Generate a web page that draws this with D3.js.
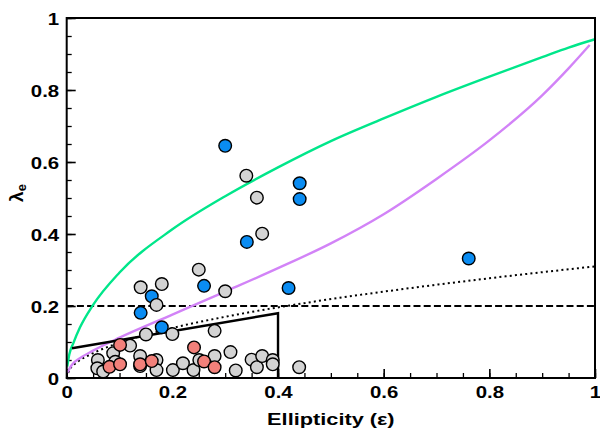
<!DOCTYPE html>
<html><head><meta charset="utf-8">
<script src="https://cdn.jsdelivr.net/npm/d3@7/dist/d3.min.js"></script>
<style>body{margin:0;background:#fff}</style>
</head><body>
<svg id="c" width="600" height="433"></svg>
<script>
// ---- data ----
const xTicks = [0, 0.2, 0.4, 0.6, 0.8, 1];
const yTicks = [0, 0.2, 0.4, 0.6, 0.8, 1];
const xTickLabels = ["0", "0.2", "0.4", "0.6", "0.8", "1"];
const yTickLabels = ["0", "0.2", "0.4", "0.6", "0.8", "1"];

const blueEps = [0.300, 0.441, 0.441, 0.341, 0.260, 0.420, 0.161, 0.140, 0.180, 0.761];
const blueLam = [0.645, 0.541, 0.497, 0.378, 0.256, 0.250, 0.227, 0.181, 0.141, 0.332];

const grayEps = [0.340, 0.360, 0.370, 0.250, 0.140, 0.180, 0.300, 0.170, 0.150, 0.200, 0.280, 0.120,
                 0.059, 0.058, 0.069, 0.088, 0.092, 0.139, 0.139, 0.170, 0.170, 0.201, 0.220, 0.240,
                 0.251, 0.280, 0.310, 0.320, 0.350, 0.360, 0.370, 0.390, 0.390, 0.440];
const grayLam = [0.562, 0.501, 0.401, 0.301, 0.252, 0.261, 0.241, 0.203, 0.121, 0.122, 0.131, 0.090,
                 0.050, 0.027, 0.018, 0.069, 0.045, 0.061, 0.033, 0.050, 0.022, 0.022, 0.041, 0.022,
                 0.050, 0.061, 0.072, 0.021, 0.051, 0.030, 0.061, 0.050, 0.038, 0.030];

const redEps = [0.101, 0.081, 0.101, 0.139, 0.161, 0.241, 0.260, 0.280];
const redLam = [0.092, 0.031, 0.038, 0.038, 0.047, 0.085, 0.046, 0.030];

const greenEps = [0.001, 0.005, 0.0126, 0.025, 0.05, 0.1, 0.2, 0.3, 0.4, 0.5, 0.6, 0.7, 0.8, 0.9, 0.95, 1.0];
const greenLam = [0.032, 0.066, 0.097, 0.140, 0.203, 0.293, 0.413, 0.505, 0.585, 0.658, 0.721, 0.781, 0.837, 0.891, 0.918, 0.941];

const magEps = [0.001, 0.01, 0.025, 0.05, 0.1, 0.2, 0.3, 0.4, 0.5, 0.6, 0.7, 0.8, 0.9, 0.95, 0.99];
const magLam = [0.015, 0.037, 0.055, 0.076, 0.112, 0.176, 0.240, 0.305, 0.374, 0.455, 0.553, 0.660, 0.785, 0.860, 0.925];

const dotEps = [0, 0.005, 0.02, 0.05, 0.1, 0.2, 0.3, 0.45, 0.631, 0.8, 1.0];
const dotLam = [0, 0.022, 0.044, 0.069, 0.098, 0.139, 0.170, 0.208, 0.246, 0.277, 0.310];

const dashEps = [0, 1];
const dashLam = [0.2, 0.2];

const slowEps = [0.01, 0.4, 0.4];
const slowLam = [0.0825, 0.18, 0];

// ---- drawing ----
const svg = d3.select("#c");
const x = d3.scaleLinear().domain([0, 1]).range([66.7, 595]);
const y = d3.scaleLinear().domain([0, 1]).range([378, 18]);
const FONT = "'Liberation Sans', Arial, Helvetica, sans-serif";
const SX = 1.2;

const zip = (a, b) => a.map((v, i) => [v, b[i]]);
const line = d3.line().x(d => x(d[0])).y(d => y(d[1]));
const smooth = d3.line().x(d => x(d[0])).y(d => y(d[1])).curve(d3.curveMonotoneX);

// minor ticks
const minor = d3.range(0, 1.0001, 0.05);
svg.append("g").attr("transform", `translate(0,${y(0)})`)
  .call(d3.axisBottom(x).tickValues(minor).tickSize(-5).tickFormat(""))
  .call(g => g.select(".domain").remove())
  .call(g => g.selectAll("line").attr("stroke", "#000").attr("stroke-width", 1.3));
svg.append("g").attr("transform", `translate(${x(0)},0)`)
  .call(d3.axisLeft(y).tickValues(minor).tickSize(-5).tickFormat(""))
  .call(g => g.select(".domain").remove())
  .call(g => g.selectAll("line").attr("stroke", "#000").attr("stroke-width", 1.3));

// major ticks + labels
const xa = svg.append("g").attr("transform", `translate(0,${y(0)})`)
  .call(d3.axisBottom(x).tickValues(xTicks).tickSize(-9).tickFormat((d, i) => xTickLabels[i]))
  .call(g => g.select(".domain").remove());
xa.selectAll("line").attr("stroke", "#000").attr("stroke-width", 1.6);
xa.selectAll("text").attr("y", 0).attr("dy", 0)
  .attr("transform", `translate(0,20) scale(${SX},1)`)
  .attr("fill", "#000").style("font", `bold 17px ${FONT}`);

const ya = svg.append("g").attr("transform", `translate(${x(0)},0)`)
  .call(d3.axisLeft(y).tickValues(yTicks).tickSize(-9).tickFormat((d, i) => yTickLabels[i]))
  .call(g => g.select(".domain").remove());
ya.selectAll("line").attr("stroke", "#000").attr("stroke-width", 1.6);
ya.selectAll("text").attr("x", 0).attr("dy", "0.36em")
  .attr("transform", `translate(-7.5,0) scale(${SX},1)`)
  .attr("fill", "#000").style("font", `bold 17px ${FONT}`);

// reference lines
svg.append("path").datum(zip(dashEps, dashLam)).attr("d", line)
  .attr("fill", "none").attr("stroke", "#000").attr("stroke-width", 2).attr("stroke-dasharray", "7,3.2");
svg.append("path").datum(zip(dotEps, dotLam)).attr("d", smooth)
  .attr("fill", "none").attr("stroke", "#000").attr("stroke-width", 2).attr("stroke-dasharray", "2,3.2");
svg.append("path").datum(zip(greenEps, greenLam)).attr("d", smooth)
  .attr("fill", "none").attr("stroke", "#00e68a").attr("stroke-width", 2.4);
svg.append("path").datum(zip(magEps, magLam)).attr("d", smooth)
  .attr("fill", "none").attr("stroke", "#d283f7").attr("stroke-width", 2.4);
svg.append("path").datum(zip(slowEps, slowLam)).attr("d", line)
  .attr("fill", "none").attr("stroke", "#000").attr("stroke-width", 2.4);

// points
function pts(eps, lam, color) {
  svg.append("g").selectAll("circle").data(zip(eps, lam)).join("circle")
    .attr("cx", d => x(d[0])).attr("cy", d => y(d[1])).attr("r", 6.3)
    .attr("fill", color).attr("stroke", "#000").attr("stroke-width", 1.4);
}
pts(blueEps, blueLam, "#0a8cf2");
pts(grayEps, grayLam, "#d3d3d3");
pts(redEps, redLam, "#f2807a");

// frame
svg.append("rect").attr("x", x(0)).attr("y", y(1)).attr("width", x(1) - x(0)).attr("height", y(0) - y(1))
  .attr("fill", "none").attr("stroke", "#000").attr("stroke-width", 2);

// axis titles
svg.append("text").attr("transform", `translate(${(x(0) + x(1)) / 2},425) scale(1.28,1)`)
  .attr("text-anchor", "middle").style("font", `bold 17px ${FONT}`).attr("fill", "#000")
  .text("Ellipticity (ε)");
const yt = svg.append("text").attr("transform", "translate(23,193) rotate(-90)")
  .attr("text-anchor", "middle").style("font", `bold 19px ${FONT}`).attr("fill", "#000");
yt.append("tspan").text("λ");
yt.append("tspan").attr("dy", 3).style("font-size", "13px").text("e");
</script>
</body></html>
